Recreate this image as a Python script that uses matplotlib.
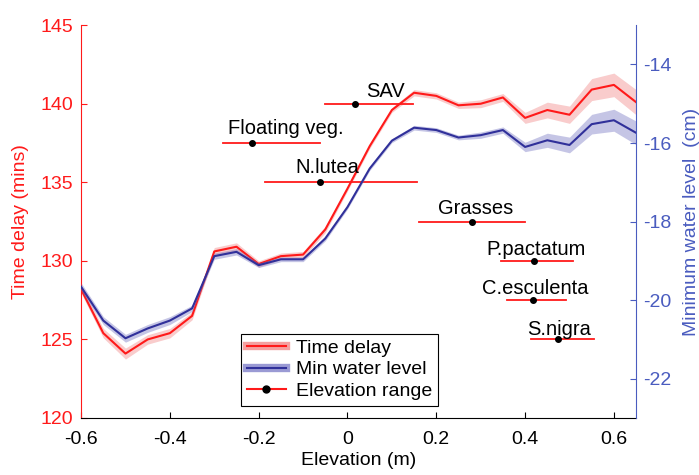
import numpy as np
import matplotlib
matplotlib.use("Agg")
import matplotlib.pyplot as plt
from matplotlib.lines import Line2D
from matplotlib.ticker import FuncFormatter

plt.rcParams['font.family'] = ['Liberation Sans', 'DejaVu Sans']
plt.rcParams['axes.unicode_minus'] = False

# data
elev = [-0.6, -0.55, -0.5, -0.45, -0.4, -0.35, -0.3, -0.25, -0.2, -0.15, -0.1, -0.05, 0.0,
        0.05, 0.1, 0.15, 0.2, 0.25, 0.3, 0.35, 0.4, 0.45, 0.5, 0.55, 0.6, 0.65]
delay = [128.2, 125.4, 124.1, 125.0, 125.4, 126.5, 130.6, 130.9, 129.8, 130.3, 130.4, 132.0, 134.6,
         137.3, 139.6, 140.7, 140.5, 139.9, 140.0, 140.4, 139.1, 139.6, 139.3, 140.9, 141.2, 140.1]
delay_err = [0.25, 0.3, 0.35, 0.3, 0.3, 0.25, 0.25, 0.25, 0.2, 0.2, 0.2, 0.2, 0.15,
             0.15, 0.15, 0.2, 0.2, 0.2, 0.25, 0.25, 0.35, 0.5, 0.55, 0.7, 0.75, 0.8]
water = [-19.66, -20.52, -20.97, -20.72, -20.52, -20.21, -18.88, -18.77, -19.11, -18.96, -18.96, -18.43, -17.63,
         -16.65, -15.94, -15.61, -15.67, -15.86, -15.80, -15.67, -16.10, -15.93, -16.05, -15.52, -15.42, -15.74]
water_err = [0.1, 0.1, 0.1, 0.1, 0.1, 0.08, 0.08, 0.08, 0.06, 0.06, 0.06, 0.06, 0.05,
             0.05, 0.05, 0.06, 0.06, 0.06, 0.08, 0.08, 0.12, 0.18, 0.2, 0.25, 0.28, 0.3]

# vegetation elevation ranges (min, median, max) and row position on left axis
veg_names = ["SAV", "Floating veg.", "N.lutea", "Grasses", "P.pactatum", "C.esculenta", "S.nigra"]
veg_lo = [-0.05, -0.28, -0.185, 0.16, 0.345, 0.36, 0.413]
veg_mid = [0.017, -0.216, -0.062, 0.281, 0.42, 0.418, 0.475]
veg_hi = [0.148, -0.062, 0.156, 0.399, 0.508, 0.493, 0.555]
veg_row = [140, 137.5, 135, 132.5, 130, 127.5, 125]
veg_label_x = [0.086, -0.138, -0.046, 0.288, 0.424, 0.424, 0.476]
veg_label_y = [140.76, 138.45, 135.92, 133.34, 130.75, 128.25, 125.64]

red = '#ff1a1a'
navy = '#30309a'
blue_axis = '#4a5cbf'

fig = plt.figure(figsize=(6.99, 4.75), dpi=100)
ax = fig.add_axes([0.116, 0.12, 0.794, 0.827])
ax2 = ax.twinx()

d = np.array(delay)
de = np.array(delay_err)
w = np.array(water)
we = np.array(water_err)

ax.fill_between(elev, d - de, d + de, color='#f08080', alpha=0.4, lw=0)
ax.plot(elev, d, color=red, lw=1.5)
ax2.fill_between(elev, w - we, w + we, color='#7070c0', alpha=0.4, lw=0)
ax2.plot(elev, w, color=navy, lw=1.5)

for i in range(len(veg_names)):
    ax.plot([veg_lo[i], veg_hi[i]], [veg_row[i], veg_row[i]], color=red, lw=1.3)
    ax.plot(veg_mid[i], veg_row[i], 'o', color='black', ms=4)
    ax.text(veg_label_x[i], veg_label_y[i], veg_names[i], ha='center', va='center', fontsize=14.5)

ax.set_xlim(-0.6, 0.65)
ax.set_ylim(120, 145)
ax2.set_ylim(-23, -13)
ax.set_xticks([-0.6, -0.4, -0.2, 0, 0.2, 0.4, 0.6])
ax.xaxis.set_major_formatter(FuncFormatter(lambda v, p: '%g' % round(v, 2)))
ax.set_yticks([120, 125, 130, 135, 140, 145])
ax2.set_yticks([-22, -20, -18, -16, -14])

ax.spines['top'].set_visible(False)
ax2.spines['top'].set_visible(False)
ax.spines['left'].set_color(red)
ax2.spines['left'].set_visible(False)
ax.spines['right'].set_visible(False)
ax2.spines['right'].set_color(blue_axis)
ax2.spines['bottom'].set_visible(False)

ax.tick_params(axis='x', direction='in', labelsize=14, length=4, pad=9)
ax.tick_params(axis='y', direction='in', colors=red, labelsize=14, length=4, pad=6)
ax2.tick_params(axis='y', direction='in', colors=blue_axis, labelsize=14, length=4, pad=5)

ax.set_xlabel("Elevation (m)", fontsize=14, labelpad=3)
ax.set_ylabel("Time delay (mins)", color=red, fontsize=14, labelpad=8)
ax2.set_ylabel("Minimum water level  (cm)", color=blue_axis, fontsize=14, labelpad=8)

h1 = (Line2D([], [], color='#f4a0a0', lw=6), Line2D([], [], color=red, lw=1.5))
h2 = (Line2D([], [], color='#9a9ad4', lw=6), Line2D([], [], color=navy, lw=1.5))
h3 = Line2D([], [], color=red, lw=1.5, marker='o', mfc='black', mec='black', ms=5)
leg = ax2.legend([h1, h2, h3], ["Time delay", "Min water level", "Elevation range"],
                 loc='lower left', bbox_to_anchor=(0.288, 0.031), fontsize=14,
                 fancybox=False, edgecolor='black', framealpha=1, handlelength=2.0,
                 borderpad=0.3, labelspacing=0.2, handletextpad=0.55, borderaxespad=0)
leg.get_frame().set_linewidth(0.8)

fig.savefig("out.png", dpi=100)
